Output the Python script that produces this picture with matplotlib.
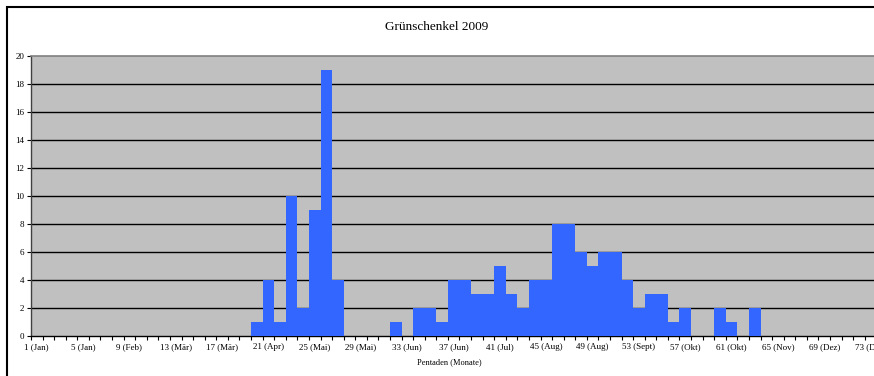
import matplotlib
matplotlib.use("Agg")
import matplotlib.pyplot as plt
from matplotlib.patches import Rectangle
from matplotlib.ticker import FixedLocator

plt.rcParams['font.family'] = ['Liberation Serif', 'DejaVu Serif']

pentads = list(range(1, 74))
counts = [0]*19 + [1, 4, 1, 10, 2, 9, 19, 4] + [0, 0, 0, 0] + \
    [1, 0, 2, 2, 1, 4, 4, 3, 3, 5, 3, 2, 4, 4, 8, 8, 6, 5, 6, 6, 4, 2, 3, 3, 1, 2,
     0, 0, 2, 1, 0, 2] + [0]*10
label_positions = [1, 5, 9, 13, 17, 21, 25, 29, 33, 37, 41, 45, 49, 53, 57, 61, 65, 69, 73]
label_texts = ["1 (Jan)", "5 (Jan)", "9 (Feb)", "13 (Mär)", "17 (Mär)", "21 (Apr)",
               "25 (Mai)", "29 (Mai)", "33 (Jun)", "37 (Jun)", "41 (Jul)", "45 (Aug)",
               "49 (Aug)", "53 (Sept)", "57 (Okt)", "61 (Okt)", "65 (Nov)", "69 (Dez)",
               "73 (Dez)"]
yticks = list(range(0, 21, 2))
title = "Grünschenkel 2009"
xlabel = "Pentaden (Monate)"

W, H = 874, 376
fig = plt.figure(figsize=(W/100, H/100), dpi=100)
fig.patch.set_facecolor('white')

# outer chart border (cropped on right/bottom)
fig.patches.append(Rectangle((6.5/W, -0.1), 1.2, 1 - 6.5/H + 0.1, transform=fig.transFigure,
                             fill=False, edgecolor='black', linewidth=1.5))

pw = 73 * 11.58
ax = fig.add_axes([31/W, 40/H, pw/W, 280/H])
ax.set_facecolor('#C0C0C0')
ax.bar(pentads, counts, width=1.0, color='#3366FF', edgecolor='none', zorder=3)

for y in yticks[1:-1]:
    ax.axhline(y, color='black', linewidth=1.0, zorder=1)

ax.set_xlim(0.5, 73.5)
ax.set_ylim(0, 20)

ax.xaxis.set_major_locator(FixedLocator(label_positions))
ax.set_xticklabels(label_texts)
ax.xaxis.set_minor_locator(FixedLocator([i + 0.5 for i in range(0, 74)]))
ax.tick_params(axis='x', which='major', length=0, labelsize=6.5, pad=5)
ax.tick_params(axis='x', which='minor', length=3, width=0.8, direction='out', color='black')
ax.set_yticks(yticks)
ax.tick_params(axis='y', which='major', length=3, width=0.8, direction='out', labelsize=6.5, pad=2)

for s in ['right']:
    ax.spines[s].set_visible(False)
ax.spines['top'].set_color('#808080')
ax.spines['top'].set_linewidth(1.2)
ax.spines['left'].set_color('#404040')
ax.spines['left'].set_linewidth(1.0)
ax.spines['bottom'].set_color('black')
ax.spines['bottom'].set_linewidth(1.0)

fig.text(437/W, 1 - 27/H, title, ha='center', va='center', fontsize=9.5)
fig.text(449/W, 1 - 362/H, xlabel, ha='center', va='center', fontsize=6)

fig.savefig('out.png', dpi=100)
